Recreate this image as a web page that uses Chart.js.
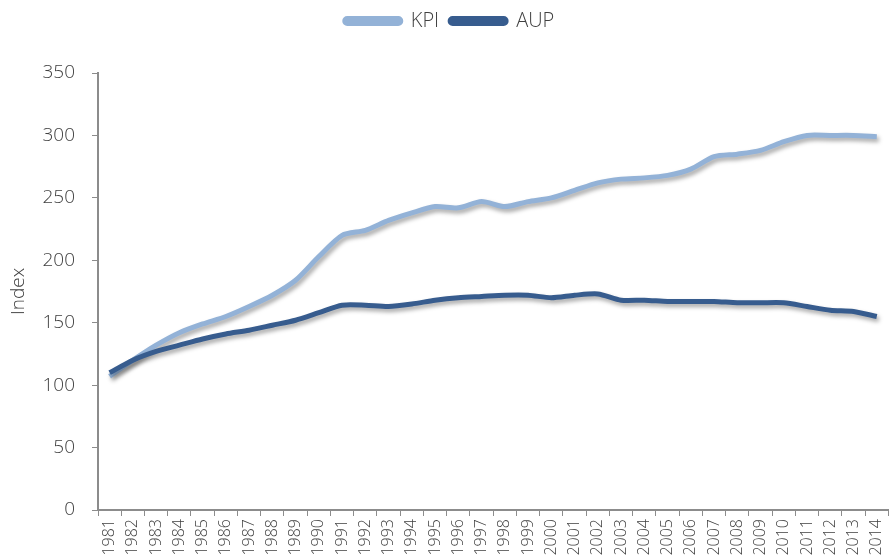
<!DOCTYPE html>
<html>
<head>
<meta charset="utf-8">
<script src="https://cdn.jsdelivr.net/npm/chart.js@4"></script>
<style>
  html, body { margin: 0; padding: 0; background: #fff; overflow: hidden; }
  #wrap { width: 899px; height: 558px; }
</style>
</head>
<body>
<div id="wrap"><canvas id="indexChart"></canvas></div>
<script>
var years = ['1981', '1982', '1983', '1984', '1985', '1986', '1987', '1988', '1989', '1990',
  '1991', '1992', '1993', '1994', '1995', '1996', '1997', '1998', '1999', '2000',
  '2001', '2002', '2003', '2004', '2005', '2006', '2007', '2008', '2009', '2010',
  '2011', '2012', '2013', '2014'];

var kpi = [107, 120, 132, 142, 149, 155, 163, 172, 184, 203,
  220, 224, 232, 238, 243, 242, 247, 243, 247, 250,
  256, 262, 265, 266, 268, 273, 283, 285, 288, 295,
  300, 300, 300, 299];

var aup = [110, 120, 127, 132, 137, 141, 144, 148, 152, 158,
  164, 164, 163, 165, 168, 170, 171, 172, 172, 170,
  172, 173, 168, 168, 167, 167, 167, 166, 166, 166,
  163, 160, 159, 155];

var yTicks = [0, 50, 100, 150, 200, 250, 300, 350];

var axisGrey = '#8c8c8c';
var textGrey = '#404040';
var fontFam = "'Open Sans', 'Noto Sans', sans-serif";

// soft drop shadow under each line, like the original
var shadowPlugin = {
  id: 'lineShadow',
  beforeDatasetDraw: function (chart) {
    var c = chart.ctx;
    c.save();
    c.shadowColor = 'rgba(0,0,0,0.35)';
    c.shadowBlur = 4;
    c.shadowOffsetX = 2;
    c.shadowOffsetY = 3;
  },
  afterDatasetDraw: function (chart) {
    chart.ctx.restore();
  }
};

// fixed legend height so the plot starts where the original does
var legendHeight = {
  id: 'legendHeight',
  beforeInit: function (chart) {
    var fit = chart.legend.fit;
    chart.legend.fit = function () {
      fit.bind(chart.legend)();
      this.height = 73;
    };
  }
};

var ctx = document.getElementById('indexChart');
new Chart(ctx, {
  type: 'line',
  data: {
    labels: years,
    datasets: [{
      label: 'KPI',
      data: kpi,
      borderColor: '#93b2d7',
      backgroundColor: '#93b2d7',
      borderWidth: 5,
      pointRadius: 0,
      tension: 0.25,
      order: 1,
      fill: false
    }, {
      label: 'AUP',
      data: aup,
      borderColor: '#375c8e',
      backgroundColor: '#375c8e',
      borderWidth: 5,
      pointRadius: 0,
      tension: 0.25,
      order: 0,
      fill: false
    }]
  },
  plugins: [shadowPlugin, legendHeight],
  options: {
    responsive: true,
    maintainAspectRatio: false,
    animation: false,
    layout: { padding: 0 },
    plugins: {
      tooltip: { enabled: false },
      legend: {
        position: 'top',
        labels: {
          boxWidth: 56,
          boxHeight: 5,
          padding: 11,
          useBorderRadius: true,
          borderRadius: 2.5,
          color: textGrey,
          font: { family: fontFam, size: 20, weight: 300 },
          sort: function (a, b) { return a.datasetIndex - b.datasetIndex; }
        }
      }
    },
    scales: {
      x: {
        offset: true,
        afterFit: function (s) { s.height = 48; },
        grid: {
          offset: true,
          drawOnChartArea: false,
          drawTicks: true,
          tickLength: 6,
          color: axisGrey
        },
        border: { display: true, color: axisGrey, width: 2 },
        ticks: {
          autoSkip: false,
          maxRotation: 90,
          minRotation: 90,
          padding: 3,
          color: textGrey,
          font: { family: fontFam, size: 16, weight: 300 }
        }
      },
      y: {
        min: 0,
        max: 350,
        afterFit: function (s) { s.width = 98; },
        afterBuildTicks: function (s) {
          s.ticks = yTicks.map(function (v) { return { value: v }; });
        },
        grid: {
          drawOnChartArea: false,
          drawTicks: true,
          tickLength: 6,
          color: axisGrey
        },
        border: { display: true, color: axisGrey, width: 2 },
        title: {
          display: true,
          text: 'Index',
          color: textGrey,
          padding: { top: 7, bottom: 0 },
          font: { family: fontFam, size: 19, weight: 300 }
        },
        ticks: {
          padding: 17,
          color: textGrey,
          font: { family: fontFam, size: 19, weight: 300 }
        }
      }
    }
  }
});
</script>
</body>
</html>
